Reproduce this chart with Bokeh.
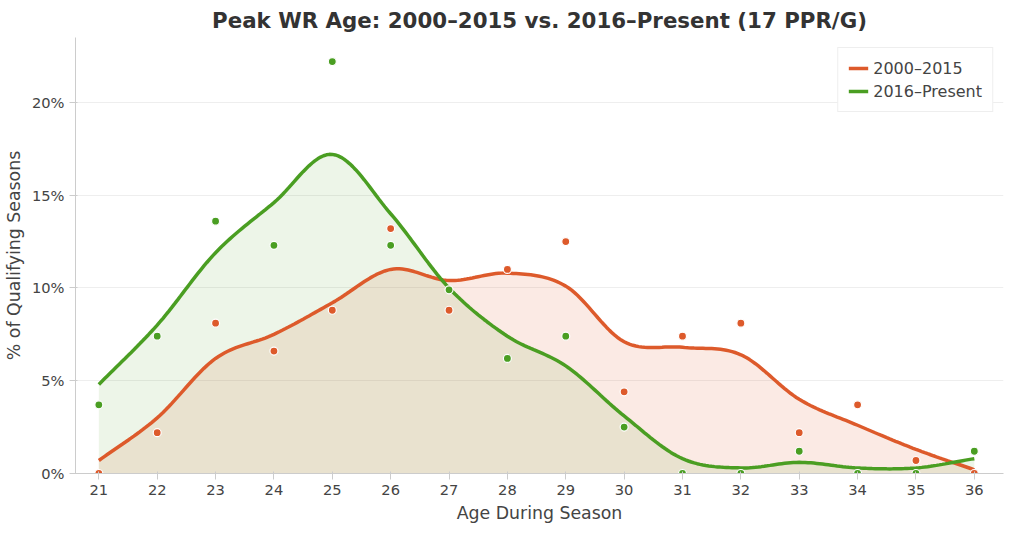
import numpy as np
from bokeh.plotting import figure
from bokeh.models import NumeralTickFormatter, Legend, LegendItem
from bokeh.embed import file_html
from bokeh.resources import INLINE

ages = list(range(21, 37))
pts_old = [0, 2.2, 8.1, 6.6, 8.8, 13.2, 8.8, 11.0, 12.5, 4.4, 7.4, 8.1, 2.2, 3.7, 0.7, 0]
pts_new = [3.7, 7.4, 13.6, 12.3, 22.2, 12.3, 9.9, 6.2, 7.4, 2.5, 0, 0, 1.2, 0, 0, 1.2]
curve_old = [0.7, 3.0, 6.2, 7.5, 9.2, 11.0, 10.4, 10.8, 10.1, 7.1, 6.8, 6.4, 4.0, 2.6, 1.3, 0.2]
curve_new = [4.8, 8.0, 11.9, 14.6, 17.2, 14.0, 10.0, 7.4, 5.8, 3.1, 0.8, 0.3, 0.6, 0.3, 0.3, 0.8]

def smooth(xs, ys, n=20):
    xs = np.array(xs, float); ys = np.array(ys, float)
    P = np.concatenate([[2*ys[0]-ys[1]], ys, [2*ys[-1]-ys[-2]]])
    ox, oy = [], []
    for i in range(len(xs)-1):
        p0, p1, p2, p3 = P[i], P[i+1], P[i+2], P[i+3]
        for t in np.linspace(0, 1, n, endpoint=False):
            oy.append(0.5*((2*p1)+(-p0+p2)*t+(2*p0-5*p1+4*p2-p3)*t*t+(-p0+3*p1-3*p2+p3)*t**3))
            ox.append(xs[i]+t)
    ox.append(xs[-1]); oy.append(ys[-1])
    return np.array(ox), np.array(oy)/100

ORANGE = "#dd5a2b"; GREEN = "#4a9e22"
p = figure(width=1008, height=525, x_range=(20.6, 36.5), y_range=(0, 0.235),
           output_backend="svg", toolbar_location=None,
           title="Peak WR Age: 2000–2015 vs. 2016–Present (17 PPR/G)")
p.title.align = "center"; p.title.text_font_size = "16pt"; p.title.text_color = "#333333"
p.title.text_font = "DejaVu Sans"
p.outline_line_color = None
p.xgrid.grid_line_color = None
p.ygrid.grid_line_color = "#eeeeee"
p.xaxis.ticker = ages
p.yaxis.ticker = [0, 0.05, 0.10, 0.15, 0.20]
p.yaxis.formatter = NumeralTickFormatter(format="0%")
p.xaxis.axis_label = "Age During Season"; p.yaxis.axis_label = "% of Qualifying Seasons"
for ax in (p.xaxis, p.yaxis):
    ax.axis_label_text_font_style = "normal"; ax.axis_label_text_font_size = "13pt"
    ax.axis_label_text_color = "#444444"; ax.major_label_text_font_size = "11pt"
    ax.major_label_text_color = "#444444"; ax.axis_line_color = "#cccccc"
    ax.major_tick_line_color = "#cccccc"; ax.minor_tick_line_color = None
    ax.axis_label_text_font = "DejaVu Sans"; ax.major_label_text_font = "DejaVu Sans"

xo, yo = smooth(ages, curve_old); xn, yn = smooth(ages, curve_new)
p.varea(x=xo, y1=0, y2=yo, fill_color=ORANGE, fill_alpha=0.13)
p.varea(x=xn, y1=0, y2=yn, fill_color=GREEN, fill_alpha=0.1)
l1 = p.line(xo, yo, line_color=ORANGE, line_width=3.5)
l2 = p.line(xn, yn, line_color=GREEN, line_width=3.5)
p.scatter(ages, [v/100 for v in pts_old], size=8, fill_color=ORANGE, line_color="white", line_width=1.2)
p.scatter(ages, [v/100 for v in pts_new], size=8, fill_color=GREEN, line_color="white", line_width=1.2)
leg = Legend(items=[LegendItem(label="2000–2015", renderers=[l1]), LegendItem(label="2016–Present", renderers=[l2])],
             location="top_right", label_text_font_size="12pt", border_line_color="#dddddd",
             label_text_font="DejaVu Sans")
p.add_layout(leg)
open("out.html", "w").write(file_html(p, INLINE))
